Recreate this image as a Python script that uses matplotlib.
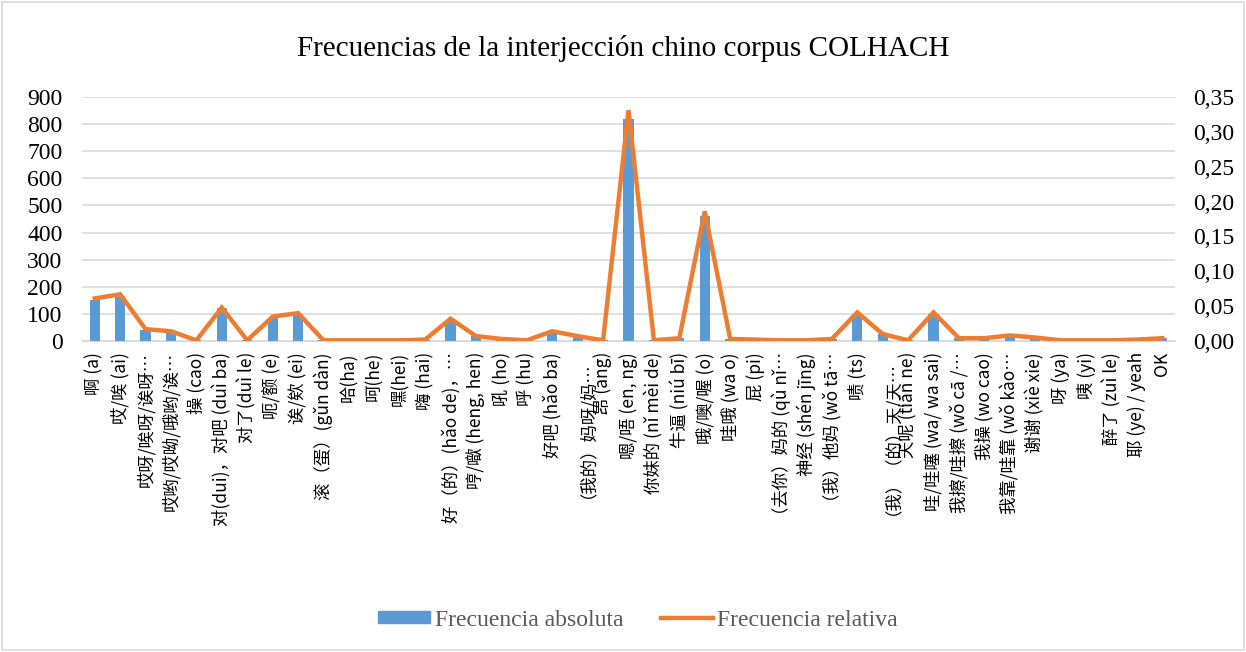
import matplotlib.pyplot as plt
from matplotlib.patches import Rectangle
from matplotlib.lines import Line2D
from matplotlib.ticker import FuncFormatter

categorias = ['啊 (a)', '哎/唉 (ai)', '哎呀/唉呀/诶呀…', '哎哟/哎呦/哦哟/诶…', '操 (cao)',
              '对(dui)，对吧 (duì ba)', '对了(duì le)', '呃/额 (e)', '诶/欸 (ei)', '滚（蛋）(gǔn dàn)',
              '哈(ha)', '呵(he)', '嘿(hei)', '嗨 (hai)', '好（的）(hǎo de)，…',
              '哼/噷 (heng, hen)', '吼 (ho)', '呼 (hu)', '好吧 (hǎo ba)', '（我的）妈呀/妈…',
              '昂 (ang)', '嗯/唔 (en, ng)', '你妹的 (nǐ mèi de)', '牛逼 (niú bī)', '哦/噢/喔 (o)',
              '哇哦 (wa o)', '屁 (pi)', '（去你）妈的 (qù nǐ…', '神经 (shén jīng)', '（我）他妈 (wǒ tā…',
              '啧 (ts)', '（我）（的）天/天…', '天呢 (tiān ne)', '哇/哇噻 (wa/ wa sai)', '我擦/哇擦 (wǒ cā /…',
              '我操 (wo cao)', '我靠/哇靠 (wǒ kào…', '谢谢 (xiè xie)', '呀 (ya)', '咦 (yi)',
              '醉了 (zuì le)', '耶 (ye) / yeah', 'OK']

absoluta = [150, 165, 40, 33, 2, 120, 2, 85, 100, 2,
            2, 2, 2, 5, 75, 18, 8, 2, 35, 18,
            2, 820, 2, 10, 460, 8, 5, 2, 3, 8,
            100, 25, 2, 100, 10, 10, 20, 12, 2, 2,
            3, 5, 10]

relativa = [0.061, 0.067, 0.017, 0.014, 0.001, 0.048, 0.001, 0.035, 0.040, 0.001,
            0.001, 0.001, 0.001, 0.002, 0.032, 0.007, 0.003, 0.001, 0.014, 0.007,
            0.001, 0.331, 0.001, 0.004, 0.186, 0.003, 0.002, 0.001, 0.001, 0.003,
            0.041, 0.010, 0.001, 0.041, 0.004, 0.004, 0.008, 0.005, 0.001, 0.001,
            0.001, 0.002, 0.004]

azul = '#5b9bd5'
naranja = '#ed7d31'
serif = 'Liberation Serif'

fig = plt.figure(figsize=(12.46, 6.52), dpi=100)
ax = fig.add_axes([82 / 1246, 1 - 341 / 652, (1175 - 82) / 1246, (341 - 97) / 652])
ax2 = ax.twinx()

x = range(len(categorias))
ax.bar(x, absoluta, width=0.4, color=azul, zorder=2)
ax2.plot(x, relativa, color=naranja, linewidth=3.2, solid_joinstyle='miter', zorder=3)

ax.set_xlim(-0.5, len(categorias) - 0.5)
ax.set_ylim(0, 900)
ax2.set_ylim(0, 0.35)
ax.set_yticks(range(0, 901, 100))
ax2.set_yticks([i * 0.05 for i in range(8)])
ax2.yaxis.set_major_formatter(FuncFormatter(lambda v, p: f'{v:.2f}'.replace('.', ',')))

ax.grid(axis='y', color='#d9d9d9', linewidth=1.2, zorder=0)
ax.set_axisbelow(True)
for a in (ax, ax2):
    for s in ('top', 'left', 'right'):
        a.spines[s].set_visible(False)
    a.spines['bottom'].set_color('#d9d9d9')
    a.tick_params(length=0)
ax2.spines['bottom'].set_visible(False)

ax.set_xticks(list(x))
ax.set_xticklabels(categorias, rotation=90, fontsize=12.5,
                   family=['Noto Sans CJK SC', 'DejaVu Sans'])
ax.tick_params(axis='x', pad=8)
for lab in ax.get_yticklabels() + ax2.get_yticklabels():
    lab.set_fontfamily(serif)
    lab.set_fontsize(17)
ax.tick_params(axis='y', pad=14)
ax2.tick_params(axis='y', pad=13)

fig.text(0.5, 1 - 48 / 652, 'Frecuencias de la interjección chino corpus COLHACH',
         ha='center', va='center', fontsize=21, family=serif)

handles = [Rectangle((0, 0), 1, 1, color=azul),
           Line2D([0], [0], color=naranja, linewidth=3.2)]
fig.legend(handles, ['Frecuencia absoluta', 'Frecuencia relativa'],
           loc='center', bbox_to_anchor=(0.512, 1 - 620 / 652), ncol=2, frameon=False,
           prop={'family': serif, 'size': 17}, labelcolor='#595959',
           handlelength=2.2, handleheight=0.45, handletextpad=0.2, columnspacing=1.6)

fig.patches.append(Rectangle((0.002, 0.003), 0.996, 0.994, transform=fig.transFigure,
                             fill=False, edgecolor='#d9d9d9', linewidth=1.2))

fig.savefig('out.png', dpi=100)
